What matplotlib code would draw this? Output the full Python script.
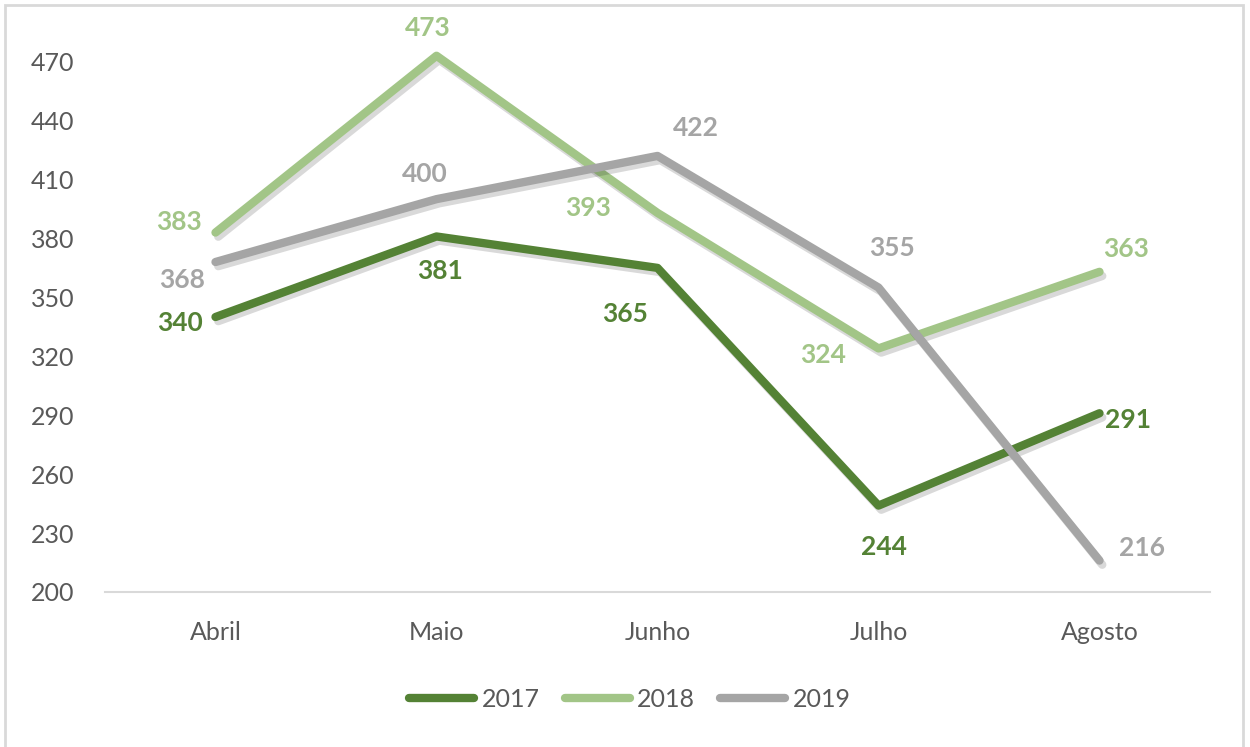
import matplotlib.pyplot as plt
import matplotlib.patheffects as pe
from matplotlib.patches import Rectangle

months = ["Abril", "Maio", "Junho", "Julho", "Agosto"]
years = ["2017", "2018", "2019"]
values_2017 = [340, 381, 365, 244, 291]
values_2018 = [383, 473, 393, 324, 363]
values_2019 = [368, 400, 422, 355, 216]
y_ticks = [200, 230, 260, 290, 320, 350, 380, 410, 440, 470]

colors = ["#548235", "#A2C587", "#A5A5A5"]
# label offsets in pixels for each point
offsets = [
    [(-36, -6), (3, -35), (-32, -46), (5, -41), (29, -7)],
    [(-37, 11), (-9, 28), (-69, 5), (-55, -7), (27, 23)],
    [(-33, -18), (-12, 25), (38, 28), (13, 40), (42, 13)],
]

plt.rcParams["font.family"] = ["Lato", "DejaVu Sans"]

fig = plt.figure(figsize=(12.5, 7.47), dpi=100)
ax = fig.add_axes([0.084, 0.2075, 0.884, 0.731])
fig.patches.append(Rectangle((0.004, -0.01), 0.99, 1.003, transform=fig.transFigure,
                             fill=False, edgecolor="#D9D9D9", linewidth=2))

x = range(len(months))
series = [values_2017, values_2018, values_2019]
for vals, year, color, offs in zip(series, years, colors, offsets):
    ax.plot(x, vals, color=color, linewidth=6, label=year,
            solid_capstyle="round", solid_joinstyle="round",
            path_effects=[pe.SimpleLineShadow(offset=(2, -3), shadow_color="black", alpha=0.15),
                          pe.Normal()])
    for xi, v, off in zip(x, vals, offs):
        ax.annotate(str(v), (xi, v), xytext=off, textcoords="offset pixels",
                    ha="center", va="center", fontsize=19, fontweight="bold", color=color)

ax.set_xlim(-0.5, len(months) - 0.5)
ax.set_ylim(200, 478)
ax.set_yticks(y_ticks)
ax.set_xticks(list(x))
ax.set_xticklabels(months)
for side in ["top", "right", "left"]:
    ax.spines[side].set_visible(False)
ax.spines["bottom"].set_color("#D9D9D9")
ax.spines["bottom"].set_linewidth(1.5)
ax.tick_params(axis="both", length=0, labelsize=18, labelcolor="#595959")
ax.tick_params(axis="x", pad=21)
ax.tick_params(axis="y", pad=22)

leg = ax.legend(loc="center", bbox_to_anchor=(0.475, -0.197), ncol=3, frameon=False,
                fontsize=18, handlelength=2.6, handletextpad=0.3, columnspacing=1.0)
for t in leg.get_texts():
    t.set_color("#595959")
for h in leg.get_lines():
    h.set_solid_capstyle("round")
    h.set_path_effects([])

fig.savefig("out.png", dpi=100)
